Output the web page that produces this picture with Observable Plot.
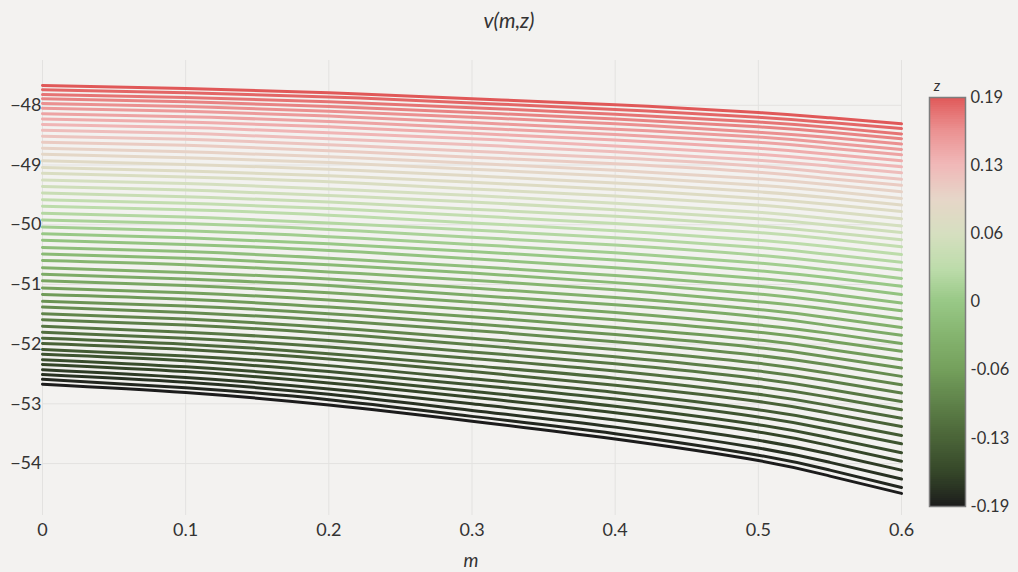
<!DOCTYPE html>
<html>
<head>
<meta charset="utf-8">
<script src="https://cdn.jsdelivr.net/npm/d3@7"></script>
<script src="https://cdn.jsdelivr.net/npm/@observablehq/plot@0.6"></script>
<style>
  html, body { margin: 0; padding: 0; background: #f3f2f0; }
  #wrap { position: relative; width: 1018px; height: 572px; overflow: hidden; background: #f3f2f0; font-family: Lato, "Open Sans", sans-serif; color: #333; }
  .abs { position: absolute; }
</style>
</head>
<body>
<div id="wrap">
  <div id="main" class="abs" style="left:0;top:0"></div>
  <div id="cbar" class="abs" style="left:900px;top:0"></div>
  <div class="abs" style="top:8px;left:0;width:1018px;text-align:center;font-style:italic;font-size:21px;line-height:24px;">v(m,z)</div>
  <div class="abs" style="top:550px;left:431px;width:80px;text-align:center;font-style:italic;font-size:19px;line-height:20px;">m</div>
  <div class="abs" style="top:77px;left:922px;width:30px;text-align:center;font-style:italic;font-size:15px;line-height:17px;">z</div>
</div>
<script>
// ---- data ----
const mValues = [0, 0.1, 0.2, 0.3, 0.4, 0.5, 0.55, 0.6];
const zValues = [0.19, 0.1824, 0.1748, 0.1672, 0.1596, 0.152, 0.1444, 0.1368, 0.1292, 0.1216, 0.114, 0.1064, 0.0988, 0.0912, 0.0836, 0.076, 0.0684, 0.0608, 0.0532, 0.0456, 0.038, 0.0304, 0.0228, 0.0152, 0.0076, 0, -0.0076, -0.0152, -0.0228, -0.0304, -0.038, -0.0456, -0.0532, -0.0608, -0.0684, -0.076, -0.0836, -0.0912, -0.0988, -0.1064, -0.114, -0.1216, -0.1292, -0.1368, -0.1444, -0.152, -0.1596, -0.1672, -0.1748, -0.1824, -0.19];
const v_m000 = [-47.67,-47.74,-47.82,-47.89,-47.97,-48.05,-48.14,-48.23,-48.32,-48.42,-48.52,-48.62,-48.72,-48.82,-48.93,-49.04,-49.14,-49.25,-49.36,-49.47,-49.58,-49.69,-49.81,-49.92,-50.04,-50.15,-50.26,-50.38,-50.49,-50.60,-50.72,-50.83,-50.94,-51.06,-51.17,-51.28,-51.38,-51.49,-51.59,-51.70,-51.80,-51.90,-51.99,-52.09,-52.17,-52.26,-52.34,-52.43,-52.51,-52.59,-52.67];
const v_m010 = [-47.72,-47.79,-47.87,-47.94,-48.02,-48.10,-48.19,-48.28,-48.37,-48.47,-48.57,-48.67,-48.78,-48.88,-48.99,-49.10,-49.20,-49.31,-49.42,-49.53,-49.64,-49.75,-49.87,-49.98,-50.10,-50.22,-50.33,-50.45,-50.56,-50.67,-50.80,-50.91,-51.02,-51.14,-51.25,-51.36,-51.47,-51.58,-51.68,-51.80,-51.90,-52.00,-52.09,-52.20,-52.28,-52.38,-52.46,-52.56,-52.64,-52.73,-52.81];
const v_m020 = [-47.79,-47.86,-47.94,-48.02,-48.10,-48.18,-48.27,-48.36,-48.46,-48.56,-48.66,-48.76,-48.86,-48.96,-49.07,-49.18,-49.28,-49.40,-49.51,-49.62,-49.73,-49.84,-49.97,-50.08,-50.20,-50.32,-50.43,-50.56,-50.67,-50.79,-50.91,-51.02,-51.14,-51.26,-51.38,-51.49,-51.60,-51.72,-51.82,-51.94,-52.05,-52.16,-52.25,-52.36,-52.46,-52.56,-52.65,-52.75,-52.84,-52.93,-53.02];
const v_m030 = [-47.89,-47.96,-48.04,-48.12,-48.20,-48.29,-48.38,-48.47,-48.56,-48.66,-48.77,-48.87,-48.97,-49.07,-49.18,-49.29,-49.40,-49.51,-49.62,-49.74,-49.85,-49.97,-50.09,-50.21,-50.33,-50.45,-50.57,-50.70,-50.81,-50.93,-51.06,-51.18,-51.30,-51.42,-51.54,-51.66,-51.77,-51.90,-52.01,-52.13,-52.24,-52.36,-52.46,-52.58,-52.68,-52.79,-52.89,-53.00,-53.11,-53.21,-53.29];
const v_m040 = [-47.99,-48.07,-48.15,-48.23,-48.31,-48.40,-48.49,-48.58,-48.68,-48.78,-48.88,-48.98,-49.09,-49.19,-49.30,-49.41,-49.52,-49.64,-49.75,-49.86,-49.98,-50.10,-50.22,-50.34,-50.47,-50.59,-50.72,-50.85,-50.97,-51.09,-51.22,-51.34,-51.47,-51.59,-51.72,-51.84,-51.96,-52.09,-52.21,-52.33,-52.45,-52.57,-52.69,-52.81,-52.92,-53.04,-53.15,-53.27,-53.39,-53.50,-53.59];
const v_m050 = [-48.12,-48.20,-48.28,-48.36,-48.45,-48.53,-48.62,-48.72,-48.82,-48.92,-49.02,-49.12,-49.23,-49.34,-49.45,-49.56,-49.67,-49.79,-49.90,-50.02,-50.13,-50.26,-50.38,-50.51,-50.64,-50.77,-50.90,-51.03,-51.16,-51.29,-51.42,-51.54,-51.68,-51.80,-51.93,-52.06,-52.19,-52.32,-52.45,-52.58,-52.71,-52.84,-52.96,-53.10,-53.22,-53.35,-53.47,-53.61,-53.74,-53.86,-53.95];
const v_m055 = [-48.21,-48.29,-48.37,-48.45,-48.54,-48.63,-48.72,-48.82,-48.92,-49.02,-49.13,-49.23,-49.33,-49.44,-49.55,-49.66,-49.78,-49.90,-50.01,-50.13,-50.24,-50.37,-50.50,-50.63,-50.76,-50.89,-51.02,-51.16,-51.29,-51.42,-51.56,-51.69,-51.82,-51.95,-52.09,-52.22,-52.35,-52.49,-52.62,-52.76,-52.89,-53.03,-53.16,-53.30,-53.43,-53.57,-53.70,-53.84,-53.98,-54.11,-54.21];
const v_m060 = [-48.31,-48.39,-48.48,-48.56,-48.65,-48.74,-48.83,-48.93,-49.03,-49.13,-49.24,-49.34,-49.45,-49.56,-49.67,-49.78,-49.90,-50.02,-50.13,-50.25,-50.37,-50.50,-50.63,-50.76,-50.90,-51.03,-51.17,-51.31,-51.44,-51.58,-51.72,-51.85,-51.99,-52.12,-52.26,-52.40,-52.54,-52.68,-52.82,-52.96,-53.10,-53.24,-53.38,-53.53,-53.67,-53.82,-53.96,-54.11,-54.26,-54.40,-54.50];

const xTicks = [0, 0.1, 0.2, 0.3, 0.4, 0.5, 0.6];
const yTicks = [-54, -53, -52, -51, -50, -49, -48];
const colorTicks = [0.19, 0.1267, 0.0633, 0, -0.0633, -0.1267, -0.19];
const colorTickLabels = ["0.19", "0.13", "0.06", "0", "-0.06", "-0.13", "-0.19"];
const colorStops = [-0.19, -0.16, -0.127, -0.095, -0.063, -0.03, 0, 0.03, 0.063, 0.095, 0.127, 0.16, 0.19];
const colorHex = ["#1c1c1c", "#344528", "#4a6438", "#5e8149", "#74a05c", "#86b570", "#98c886", "#bcdcaa", "#d6dfc0", "#e6d6c8", "#f0b8b8", "#eb9090", "#e05858"];

// ---- build table ----
const columns = [v_m000, v_m010, v_m020, v_m030, v_m040, v_m050, v_m055, v_m060];
const table = [];
zValues.forEach((z, i) => {
  mValues.forEach((m, j) => {
    const v = columns[j][i];
    if (v !== undefined) table.push({m, z, v, line: i});
  });
});

const colorScale = {type: "linear", domain: colorStops, range: colorHex, interpolate: "rgb"};

const main = Plot.plot({
  width: 918,
  height: 572,
  marginLeft: 42,
  marginRight: 17,
  marginTop: 60,
  marginBottom: 57,
  style: {background: "transparent", fontFamily: "Lato, sans-serif", fontSize: "18px", color: "#333"},
  x: {domain: [0, 0.6], ticks: xTicks, tickFormat: d => String(d), tickSize: 0, tickPadding: 8, label: null},
  y: {domain: [-54.87, -47.25], ticks: yTicks, tickFormat: d => (d < 0 ? "\u2212" + Math.abs(d) : String(d)), tickSize: 0, tickPadding: 1, label: null},
  color: colorScale,
  marks: [
    Plot.ruleX(xTicks, {stroke: "#e3e2e0", strokeWidth: 1}),
    Plot.ruleY(yTicks, {stroke: "#e3e2e0", strokeWidth: 1}),
    Plot.line(table, {x: "m", y: "v", z: "line", stroke: "z", strokeWidth: 3, curve: "natural"})
  ]
});
document.getElementById("main").appendChild(main);

// ---- colorbar ----
const rampStep = 0.38 / 200;
const ramp = d3.range(200).map(k => -0.19 + k * rampStep);
const cbar = Plot.plot({
  width: 118,
  height: 572,
  marginLeft: 29,
  marginRight: 53,
  marginTop: 97,
  marginBottom: 66,
  style: {background: "transparent", fontFamily: "Lato, sans-serif", fontSize: "16.5px", color: "#333"},
  x: {domain: [0, 1], axis: null},
  y: {domain: [-0.19, 0.19], axis: "right", ticks: colorTicks, tickFormat: d => colorTickLabels[colorTicks.indexOf(d)], tickSize: 0, tickPadding: 5, label: null},
  color: colorScale,
  marks: [
    Plot.rect(ramp, {x1: 0, x2: 1, y1: d => d, y2: d => Math.min(0.19, d + rampStep * 2), fill: d => d + rampStep / 2, shapeRendering: "crispEdges"}),
    Plot.frame({stroke: "#7d7d7d", strokeWidth: 1.5})
  ]
});
document.getElementById("cbar").appendChild(cbar);
</script>
</body>
</html>
